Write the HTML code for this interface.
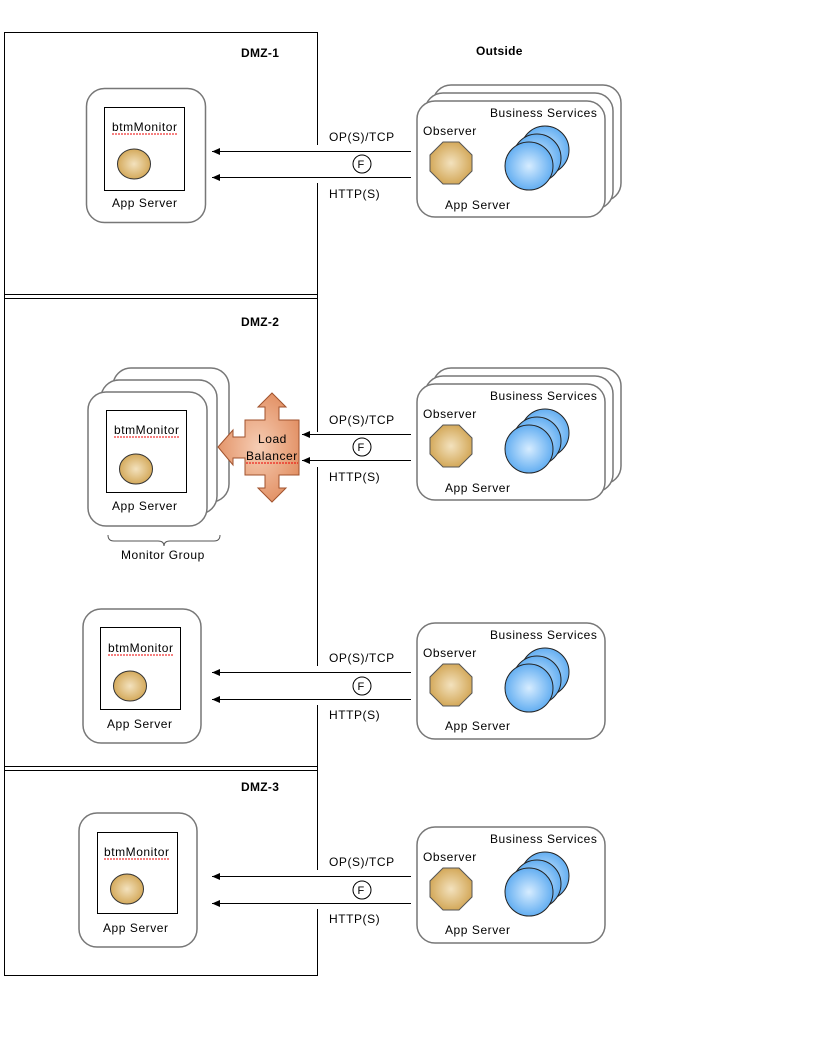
<!DOCTYPE html>
<html><head><meta charset="utf-8"><style>
html,body{margin:0;padding:0;background:#fff;}
svg{display:block;}
text{font-family:"Liberation Sans",sans-serif;font-size:12px;fill:#000;letter-spacing:0.55px;}
.b{font-weight:bold;letter-spacing:0.3px;}
</style></head><body>
<svg width="816" height="1056" viewBox="0 0 816 1056" xmlns="http://www.w3.org/2000/svg">
<defs>
<radialGradient id="og" cx="50%" cy="50%" r="55%"><stop offset="0" stop-color="#f3e2be"/><stop offset="1" stop-color="#d1a452"/></radialGradient>
<radialGradient id="bg" cx="50%" cy="50%" r="55%"><stop offset="0" stop-color="#d6ecff"/><stop offset="1" stop-color="#58a8f0"/></radialGradient>
<radialGradient id="lb" cx="50%" cy="50%" r="60%"><stop offset="0" stop-color="#f6cdb4"/><stop offset="1" stop-color="#e08a5c"/></radialGradient>
<marker id="ah" markerWidth="8" markerHeight="8" refX="8" refY="4" orient="auto" markerUnits="userSpaceOnUse"><path d="M0,0.5 L8,4 L0,7.5 Z" fill="#000"/></marker>
</defs>

<!-- zone borders -->
<g fill="none" stroke="#000" stroke-width="1">
<rect x="4.5" y="32.5" width="313" height="943"/>
<line x1="4.5" y1="294.5" x2="317.5" y2="294.5"/>
<line x1="4.5" y1="298.5" x2="317.5" y2="298.5"/>
<line x1="4.5" y1="766.5" x2="317.5" y2="766.5"/>
<line x1="4.5" y1="770.5" x2="317.5" y2="770.5"/>
</g>
<text class="b" x="241" y="57">DMZ-1</text>
<text class="b" x="241" y="326">DMZ-2</text>
<text class="b" x="241" y="791">DMZ-3</text>
<text class="b" x="476" y="55">Outside</text>

<!-- gaps in vertical line -->
<g fill="#fff">
<rect x="314" y="145" width="8" height="38"/>
<rect x="314" y="432" width="8" height="35"/>
<rect x="314" y="666" width="8" height="39"/>
<rect x="314" y="870" width="8" height="39"/>
</g>

<!-- connectors -->
<g stroke="#000" stroke-width="1" fill="none">
<line x1="411" y1="151.5" x2="212" y2="151.5" marker-end="url(#ah)"/>
<line x1="411" y1="177.5" x2="212" y2="177.5" marker-end="url(#ah)"/>
<line x1="411" y1="434.5" x2="302" y2="434.5" marker-end="url(#ah)"/>
<line x1="411" y1="460.5" x2="302" y2="460.5" marker-end="url(#ah)"/>
<line x1="411" y1="672.5" x2="212" y2="672.5" marker-end="url(#ah)"/>
<line x1="411" y1="699.5" x2="212" y2="699.5" marker-end="url(#ah)"/>
<line x1="411" y1="876.5" x2="212" y2="876.5" marker-end="url(#ah)"/>
<line x1="411" y1="903.5" x2="212" y2="903.5" marker-end="url(#ah)"/>
<circle cx="362" cy="164" r="9" fill="#fff"/>
<circle cx="362" cy="447" r="9" fill="#fff"/>
<circle cx="362" cy="686" r="9" fill="#fff"/>
<circle cx="362" cy="890" r="9" fill="#fff"/>
</g>
<g>
<text x="357.5" y="168" style="font-size:11px;letter-spacing:0">F</text><text x="357.5" y="451" style="font-size:11px;letter-spacing:0">F</text><text x="357.5" y="690" style="font-size:11px;letter-spacing:0">F</text><text x="357.5" y="894" style="font-size:11px;letter-spacing:0">F</text>
<text x="329" y="141">OP(S)/TCP</text><text x="329" y="198">HTTP(S)</text>
<text x="329" y="424">OP(S)/TCP</text><text x="329" y="481">HTTP(S)</text>
<text x="329" y="662">OP(S)/TCP</text><text x="329" y="719">HTTP(S)</text>
<text x="329" y="866">OP(S)/TCP</text><text x="329" y="923">HTTP(S)</text>
</g>

<!-- left app servers -->
<g fill="#fff" stroke="#777" stroke-width="1.5">
<rect x="86.5" y="88.5" width="119" height="134" rx="18"/>
<rect x="113" y="368" width="116" height="134" rx="18"/>
<rect x="101" y="380" width="116" height="134" rx="18"/>
<rect x="88" y="392" width="119" height="134" rx="18"/>
<rect x="83" y="609" width="118" height="134" rx="18"/>
<rect x="79" y="813" width="118" height="134" rx="18"/>
</g>
<g fill="#fff" stroke="#000" stroke-width="1">
<rect x="104.5" y="107.5" width="80" height="83"/>
<rect x="106.5" y="410.5" width="80" height="82"/>
<rect x="100.5" y="627.5" width="80" height="82"/>
<rect x="97.5" y="832.5" width="80" height="81"/>
</g>
<g fill="url(#og)" stroke="#333" stroke-width="1">
<ellipse cx="134" cy="164" rx="16.5" ry="15"/>
<ellipse cx="136" cy="469" rx="16.5" ry="15"/>
<ellipse cx="130" cy="686" rx="16.5" ry="15"/>
<ellipse cx="127" cy="889" rx="16.5" ry="15"/>
</g>
<g>
<text x="112" y="131">btmMonitor</text><text x="112" y="207">App Server</text>
<text x="114" y="434">btmMonitor</text><text x="112" y="510">App Server</text>
<text x="108" y="652">btmMonitor</text><text x="107" y="728">App Server</text>
<text x="104" y="856">btmMonitor</text><text x="103" y="932">App Server</text>
</g>
<g stroke="#e00" stroke-width="1" fill="none" stroke-dasharray="2,1">
<line x1="112" y1="134" x2="178" y2="134"/><line x1="114" y1="437" x2="180" y2="437"/>
<line x1="108" y1="655" x2="174" y2="655"/><line x1="104" y1="859" x2="170" y2="859"/>
</g>
<!-- brace -->
<path d="M108,535 Q108,541 114,541 L158,541 Q164,541 164,546 Q164,541 170,541 L214,541 Q220,541 220,535" fill="none" stroke="#555"/>
<text x="121" y="559">Monitor Group</text>

<!-- load balancer -->
<path d="M272,393 L286,407 L279,407 L279,420 L299,420 L299,475 L279,475 L279,488 L286,488 L272,502 L258,488 L265,488 L265,475 L245,475 L245,458 L233,458 L233,465 L218,447 L233,430 L233,437 L245,437 L245,420 L265,420 L265,407 L258,407 Z" fill="url(#lb)" stroke="#a0522d" stroke-width="1"/>
<text x="258" y="443">Load</text>
<text x="246" y="460">Balancer</text>
<line x1="246" y1="463" x2="298" y2="463" stroke="#e00" stroke-dasharray="2,1"/>

<!-- right app servers -->
<g fill="#fff" stroke="#777" stroke-width="1.5">
<rect x="433" y="85" width="188" height="116" rx="18"/>
<rect x="425" y="93" width="188" height="116" rx="18"/>
<rect x="417" y="101" width="188" height="116" rx="18"/>
<rect x="433" y="368" width="188" height="116" rx="18"/>
<rect x="425" y="376" width="188" height="116" rx="18"/>
<rect x="417" y="384" width="188" height="116" rx="18"/>
<rect x="417" y="623" width="188" height="116" rx="18"/>
<rect x="417" y="827" width="188" height="116" rx="18"/>
</g>
<g>
<polygon points="443,142 459,142 472,155 472,171 459,184 443,184 430,171 430,155" fill="url(#og)" stroke="#555"/>
<circle cx="545" cy="150" r="24" fill="url(#bg)" stroke="#222"/>
<circle cx="537" cy="158" r="24" fill="url(#bg)" stroke="#222"/>
<circle cx="529" cy="166" r="24" fill="url(#bg)" stroke="#222"/>
</g>
<g transform="translate(0,283)">
<polygon points="443,142 459,142 472,155 472,171 459,184 443,184 430,171 430,155" fill="url(#og)" stroke="#555"/>
<circle cx="545" cy="150" r="24" fill="url(#bg)" stroke="#222"/>
<circle cx="537" cy="158" r="24" fill="url(#bg)" stroke="#222"/>
<circle cx="529" cy="166" r="24" fill="url(#bg)" stroke="#222"/>
</g>
<g transform="translate(0,522)">
<polygon points="443,142 459,142 472,155 472,171 459,184 443,184 430,171 430,155" fill="url(#og)" stroke="#555"/>
<circle cx="545" cy="150" r="24" fill="url(#bg)" stroke="#222"/>
<circle cx="537" cy="158" r="24" fill="url(#bg)" stroke="#222"/>
<circle cx="529" cy="166" r="24" fill="url(#bg)" stroke="#222"/>
</g>
<g transform="translate(0,726)">
<polygon points="443,142 459,142 472,155 472,171 459,184 443,184 430,171 430,155" fill="url(#og)" stroke="#555"/>
<circle cx="545" cy="150" r="24" fill="url(#bg)" stroke="#222"/>
<circle cx="537" cy="158" r="24" fill="url(#bg)" stroke="#222"/>
<circle cx="529" cy="166" r="24" fill="url(#bg)" stroke="#222"/>
</g>
<g>
<text x="490" y="117">Business Services</text><text x="423" y="135">Observer</text><text x="445" y="209">App Server</text>
<text x="490" y="400">Business Services</text><text x="423" y="418">Observer</text><text x="445" y="492">App Server</text>
<text x="490" y="639">Business Services</text><text x="423" y="657">Observer</text><text x="445" y="730">App Server</text>
<text x="490" y="843">Business Services</text><text x="423" y="861">Observer</text><text x="445" y="934">App Server</text>
</g>
</svg>
</body></html>
